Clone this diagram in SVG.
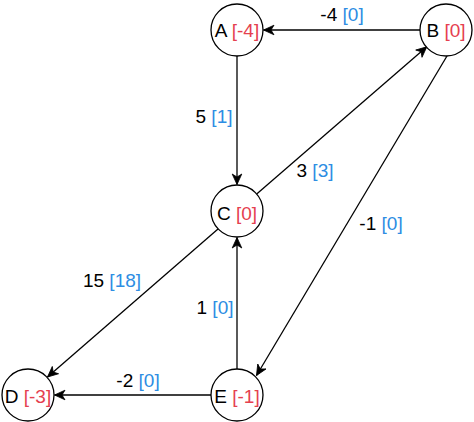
<svg xmlns="http://www.w3.org/2000/svg" width="474" height="422" viewBox="0 0 474 422">
<style>
text{font-family:"Liberation Sans",Arial,sans-serif;font-size:19px;fill:#000;text-anchor:middle}
.r{fill:#E5404F}
.b{fill:#2D8DE3}
circle{fill:#fff;stroke:#000;stroke-width:1.3}
line{stroke:#000;stroke-width:1.3}
</style>
<defs>
<marker id="arr" markerUnits="userSpaceOnUse" markerWidth="14" markerHeight="12" viewBox="-11 -6 12 12" refX="0" refY="0" orient="auto">
<path d="M0,0 L-10.5,-4.8 L-7.5,0 L-10.5,4.8 Z" fill="#000" stroke="#000" stroke-width="0.8" stroke-linejoin="miter"/>
</marker>
</defs>
<g id="connectors">
<line x1="420" y1="30" x2="263.5" y2="30" marker-end="url(#arr)"/>
<line x1="237" y1="56" x2="237" y2="184.5" marker-end="url(#arr)"/>
<line x1="256.7" y1="194" x2="426.8" y2="46.8" marker-end="url(#arr)"/>
<line x1="447" y1="56" x2="256.5" y2="375.5" marker-end="url(#arr)"/>
<line x1="218" y1="229" x2="47.5" y2="377" marker-end="url(#arr)"/>
<line x1="237" y1="369" x2="237" y2="237.5" marker-end="url(#arr)"/>
<line x1="211" y1="395" x2="54.5" y2="395" marker-end="url(#arr)"/>
<text x="342" y="21">-4 <tspan class="b">[0]</tspan></text>
<text x="214" y="123">5 <tspan class="b">[1]</tspan></text>
<text x="315" y="177">3 <tspan class="b">[3]</tspan></text>
<text x="381" y="230">-1 <tspan class="b">[0]</tspan></text>
<text x="112" y="287">15 <tspan class="b">[18]</tspan></text>
<text x="215" y="314">1 <tspan class="b">[0]</tspan></text>
<text x="138" y="387">-2 <tspan class="b">[0]</tspan></text>
</g>
<g id="node-A"><circle cx="237" cy="30" r="26"/><text x="237" y="37">A <tspan class="r">[-4]</tspan></text></g>
<g id="node-B"><circle cx="446" cy="30" r="26"/><text x="446" y="37">B <tspan class="r">[0]</tspan></text></g>
<g id="node-C"><circle cx="237" cy="211" r="26"/><text x="237" y="220">C <tspan class="r">[0]</tspan></text></g>
<g id="node-D"><circle cx="28" cy="395" r="26"/><text x="28" y="403">D <tspan class="r">[-3]</tspan></text></g>
<g id="node-E"><circle cx="237" cy="395" r="26"/><text x="237" y="403">E <tspan class="r">[-1]</tspan></text></g>
</svg>
